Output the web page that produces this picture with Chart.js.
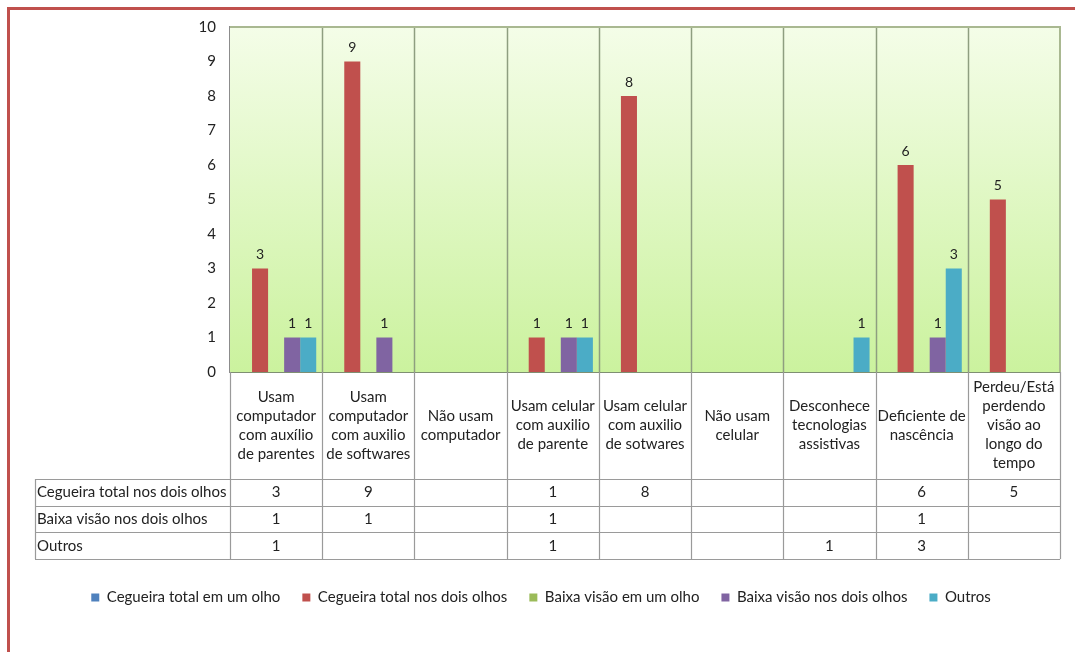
<!DOCTYPE html>
<html>
<head>
<meta charset="utf-8">
<script src="https://cdn.jsdelivr.net/npm/chart.js@4.4.1/dist/chart.umd.min.js"></script>
<style>
  html, body { margin: 0; padding: 0; background: #ffffff; }
  #wrap { position: relative; width: 1075px; height: 652px; overflow: hidden; }
  #frame { position: absolute; left: 7px; top: 7px; right: -10px; bottom: -10px;
           border-left: 3px solid #c0504d; border-top: 3px solid #c0504d; }
  canvas { position: absolute; left: 0; top: 0; }
</style>
</head>
<body>
<div id="wrap">
  <div id="frame"></div>
  <canvas id="c" width="1075" height="652"></canvas>
</div>
<script>
// ---------- data ----------
const categories = [
  ["Usam", "computador", "com auxílio", "de parentes"],
  ["Usam", "computador", "com auxilio", "de softwares"],
  ["Não usam", "computador"],
  ["Usam celular", "com auxilio", "de parente"],
  ["Usam celular", "com auxilio", "de sotwares"],
  ["Não usam", "celular"],
  ["Desconhece", "tecnologias", "assistivas"],
  ["Deficiente de", "nascência"],
  ["Perdeu/Está", "perdendo", "visão ao", "longo do", "tempo"]
];
const seriesNames = [
  "Cegueira total em um olho",
  "Cegueira total nos dois olhos",
  "Baixa visão em um olho",
  "Baixa visão nos dois olhos",
  "Outros"
];
const cegueiraUmOlho      = [null, null, null, null, null, null, null, null, null];
const cegueiraDoisOlhos   = [3, 9, null, 1, 8, null, null, 6, 5];
const baixaVisaoUmOlho    = [null, null, null, null, null, null, null, null, null];
const baixaVisaoDoisOlhos = [1, 1, null, 1, null, null, null, 1, null];
const outros              = [1, null, null, 1, null, null, 1, 3, null];
const yMin = 0, yMax = 10, yStep = 1;

// ---------- styles ----------
const seriesColors = ["#4f81bd", "#c0504d", "#9bbb59", "#8064a2", "#4bacc6"];
const seriesValues = [cegueiraUmOlho, cegueiraDoisOlhos, baixaVisaoUmOlho, baixaVisaoDoisOlhos, outros];
const FONT = "Lato";
Chart.defaults.font.family = FONT;
Chart.defaults.color = "#222";

const LABEL_BAND = 107;   // height of category label band under the plot
const ROW_H = 26.7;       // data table row height
const TABLE_LEFT = 35;
const LINE_H = 19;

const bgPlugin = {
  id: "bg",
  beforeDatasetsDraw(chart) {
    const {ctx, chartArea: a} = chart;
    ctx.save();
    const g = ctx.createLinearGradient(0, a.top, 0, a.bottom);
    g.addColorStop(0, "#f4fde8");
    g.addColorStop(1, "#cbf29e");
    ctx.fillStyle = g;
    ctx.fillRect(a.left, a.top, a.right - a.left, a.bottom - a.top);
    // category dividers in plot
    const x = chart.scales.x;
    const step = x.getPixelForValue(1) - x.getPixelForValue(0);
    ctx.strokeStyle = "#8e9e80";
    ctx.lineWidth = 1.5;
    for (let i = 1; i < categories.length; i++) {
      const px = Math.round(x.getPixelForValue(i) - step / 2) + 0.5;
      ctx.beginPath(); ctx.moveTo(px, a.top); ctx.lineTo(px, a.bottom); ctx.stroke();
    }
    // top & right border
    ctx.strokeStyle = "#a9b891";
    ctx.lineWidth = 2;
    ctx.beginPath();
    ctx.moveTo(a.left, a.top); ctx.lineTo(a.right, a.top); ctx.lineTo(a.right, a.bottom);
    ctx.stroke();
    ctx.restore();
  },
  afterDatasetsDraw(chart) {
    const {ctx} = chart;
    ctx.save();
    ctx.font = "14px " + FONT;
    ctx.fillStyle = "#222";
    ctx.textAlign = "center";
    ctx.textBaseline = "bottom";
    chart.data.datasets.forEach((ds, di) => {
      const meta = chart.getDatasetMeta(di);
      meta.data.forEach((el, i) => {
        const v = ds.data[i];
        if (v === null || v === undefined) return;
        ctx.fillText(String(v), el.x, el.y - 7);
      });
    });
    ctx.restore();
  },
  afterDraw(chart) {
    const {ctx, chartArea: a} = chart;
    const x = chart.scales.x;
    const step = x.getPixelForValue(1) - x.getPixelForValue(0);
    const top = a.bottom;
    const bandBottom = top + LABEL_BAND;
    const rows = chart.data.datasets
      .map((ds, i) => ({name: ds.label, data: ds.data}))
      .filter(r => r.data.some(v => v !== null && v !== undefined));
    const tableBottom = bandBottom + rows.length * ROW_H;
    ctx.save();
    ctx.strokeStyle = "#9a9a9a";
    ctx.lineWidth = 1.2;
    // vertical lines
    for (let i = 0; i <= categories.length; i++) {
      const px = Math.round(x.getPixelForValue(i) - step / 2) + 0.5;
      ctx.beginPath(); ctx.moveTo(px, top); ctx.lineTo(px, tableBottom); ctx.stroke();
    }
    ctx.beginPath(); ctx.moveTo(TABLE_LEFT + 0.5, bandBottom); ctx.lineTo(TABLE_LEFT + 0.5, tableBottom); ctx.stroke();
    // horizontal lines
    for (let r = 0; r <= rows.length; r++) {
      const py = Math.round(bandBottom + r * ROW_H) + 0.5;
      ctx.beginPath(); ctx.moveTo(TABLE_LEFT, py); ctx.lineTo(a.right, py); ctx.stroke();
    }
    // category labels
    ctx.font = "15px " + FONT;
    ctx.fillStyle = "#222";
    ctx.textAlign = "center";
    ctx.textBaseline = "middle";
    categories.forEach((lines, i) => {
      const cx = x.getPixelForValue(i);
      const cy = (top + bandBottom) / 2;
      const y0 = cy - (lines.length - 1) * LINE_H / 2;
      lines.forEach((t, k) => ctx.fillText(t, cx, y0 + k * LINE_H));
    });
    // table rows
    rows.forEach((r, ri) => {
      const cy = bandBottom + (ri + 0.5) * ROW_H;
      ctx.textAlign = "left";
      ctx.fillText(r.name, TABLE_LEFT + 2, cy);
      ctx.textAlign = "center";
      r.data.forEach((v, i) => {
        if (v === null || v === undefined) return;
        ctx.fillText(String(v), x.getPixelForValue(i), cy);
      });
    });
    ctx.restore();
  }
};

new Chart(document.getElementById("c"), {
  type: "bar",
  data: {
    labels: categories.map(l => l.join(" ")),
    datasets: seriesNames.map((name, i) => ({
      label: name,
      data: seriesValues[i],
      backgroundColor: seriesColors[i],
      borderWidth: 0
    }))
  },
  options: {
    responsive: false,
    animation: false,
    categoryPercentage: 0.87,
    barPercentage: 1.0,
    layout: { padding: { left: 22, top: 27, right: 15, bottom: 37 } },
    scales: {
      x: {
        grid: { display: false, drawTicks: false },
        ticks: { display: false },
        border: { display: true, color: "#7f8f72", width: 2 },
        afterFit(s) { s.height = 196; }
      },
      y: {
        min: yMin, max: yMax,
        ticks: { stepSize: yStep, padding: 14, font: { size: 15 }, color: "#222" },
        grid: { display: false, drawTicks: false },
        border: { display: true, color: "#8c8c8c", width: 1.5 },
        afterFit(s) { s.width = 208; }
      }
    },
    plugins: {
      legend: {
        position: "bottom",
        labels: { boxWidth: 8, boxHeight: 8, padding: 22, font: { size: 15 }, color: "#222" }
      },
      tooltip: { enabled: false }
    }
  },
  plugins: [bgPlugin]
});
</script>
</body>
</html>
